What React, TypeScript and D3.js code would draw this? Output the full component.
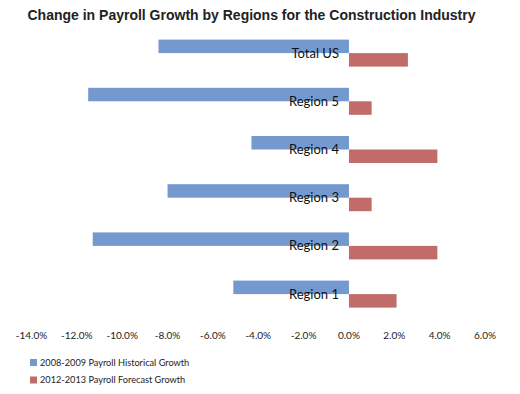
import React from "react";
import * as d3 from "d3";

const categories = ["Total US", "Region 5", "Region 4", "Region 3", "Region 2", "Region 1"];
const historical = [-8.4, -11.5, -4.3, -8.0, -11.3, -5.1];
const forecast = [2.6, 1.0, 3.9, 1.0, 3.9, 2.1];
const tickValues = [-14, -12, -10, -8, -6, -4, -2, 0, 2, 4, 6];
const seriesNames = ["2008-2009 Payroll Historical Growth", "2012-2013 Payroll Forecast Growth"];
const colors = ["#7499cf", "#c16c69"];

export default function App() {
  const W = 520, H = 394;
  const x = d3.scaleLinear().domain([-14, 6]).range([31.5, 485]);
  const y = d3.scaleBand<string>().domain(categories).range([29, 318.2]).paddingInner(0.44).paddingOuter(0.22);
  const bw = y.bandwidth() / 2;
  const font = "Lato, 'Open Sans', sans-serif";
  return (
    <svg width={W} height={H} style={{ position: "absolute", left: 0, top: 0, background: "#fff" }}>
      <text x={251.5} y={20} textAnchor="middle" fontFamily="'Liberation Sans', Arial, sans-serif" fontWeight="bold" fontSize={14} fill="#222">
        Change in Payroll Growth by Regions for the Construction Industry
      </text>
      {categories.map((c, i) => {
        const y0 = y(c)!;
        return (
          <g key={c}>
            <rect x={x(historical[i])} y={y0} width={x(0) - x(historical[i])} height={bw} fill={colors[0]} />
            <rect x={x(0)} y={y0 + bw} width={x(forecast[i]) - x(0)} height={bw} fill={colors[1]} />
          </g>
        );
      })}
      {categories.map((c) => (
        <text key={c + "l"} x={x(0) - 10} y={y(c)! + y.bandwidth() / 2} dy="0.35em" textAnchor="end" fontFamily={font} fontSize={13} fill="#111">
          {c}
        </text>
      ))}
      {tickValues.map((t) => (
        <text key={t} x={x(t)} y={335} dy="0.35em" textAnchor="middle" fontFamily={font} fontSize={10} fill="#222">
          {t.toFixed(1) + "%"}
        </text>
      ))}
      {seriesNames.map((s, i) => (
        <g key={s} transform={`translate(30, ${359 + i * 17.5})`}>
          <rect x={0} y={0} width={7} height={7} fill={colors[i]} />
          <text x={10} y={3.5} dy="0.35em" fontFamily={font} fontSize={9.2} fill="#222">{s}</text>
        </g>
      ))}
    </svg>
  );
}
